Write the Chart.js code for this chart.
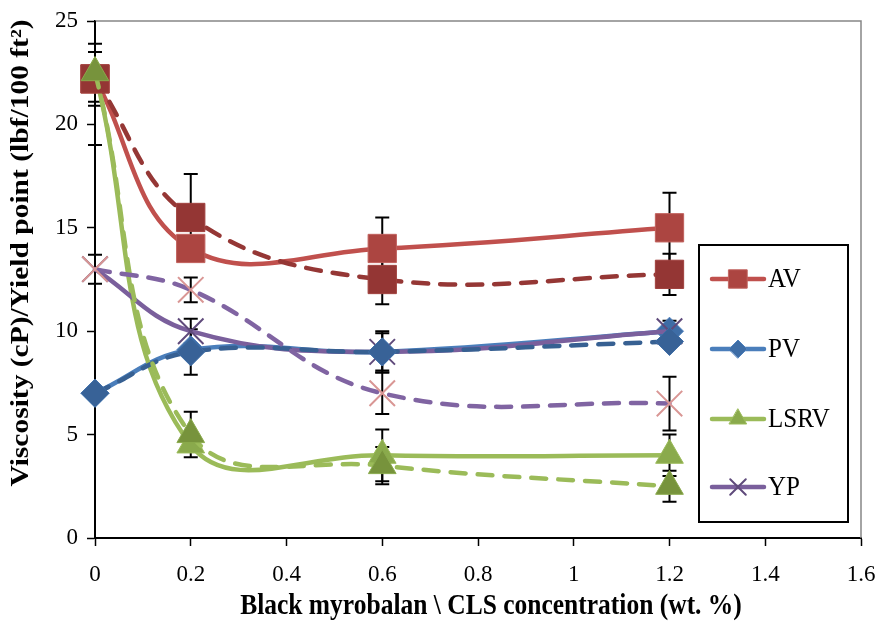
<!DOCTYPE html>
<html><head><meta charset="utf-8">
<script src="https://cdn.jsdelivr.net/npm/chart.js@4/dist/chart.umd.min.js"></script>
<style>html,body{margin:0;padding:0;background:#fff;} #wrap{width:882px;height:625px;position:relative;}</style>
</head><body><div id="wrap"><canvas id="c" width="882" height="625"></canvas></div>
<script>
// ---- data ----
const xValues = [0, 0.2, 0.6, 1.2];
const seriesNames = ['AV', 'PV', 'LSRV', 'YP'];
const avSolid    = [22.2, 14.0, 14.0, 15.0];
const avDashed   = [22.2, 15.5, 12.5, 12.75];
const pvSolid    = [7.0, 9.1, 9.0, 10.0];
const pvDashed   = [7.0, 9.0, 9.0, 9.5];
const lsrvSolid  = [22.5, 4.5, 4.0, 4.0];
const lsrvDashed = [22.5, 5.0, 3.5, 2.5];
const ypSolid    = [13.0, 10.0, 9.0, 10.0];
const ypDashed   = [13.0, 12.0, 7.0, 6.5];
// error bar half-ranges (0 = none)
const avSolidErr    = [1.3, 0, 1.5, 1.7];
const avDashedErr   = [0, 2.1, 1.2, 1.0];
const pvSolidErr    = [0, 0, 0.9, 0.5];
const pvDashedErr   = [0, 1.1, 0, 0];
const lsrvSolidErr  = [1.4, 0, 1.25, 1.0];
const lsrvDashedErr = [3.5, 1.1, 0.9, 0.75];
const ypSolidErr    = [0.7, 0.6, 1.0, 0];
const ypDashedErr   = [0, 0.6, 1.0, 1.3];
const xTicks = [0, 0.2, 0.4, 0.6, 0.8, 1, 1.2, 1.4, 1.6];
const yTicks = [0, 5, 10, 15, 20, 25];
const xTitle = 'Black myrobalan \\ CLS concentration (wt. %)';
const yTitle = 'Viscosity (cP)/Yield point (lbf/100 ft\u00B2)';

const FONT = "'Liberation Serif', 'Times New Roman', serif";
const pts = arr => xValues.map((x, i) => ({x: x, y: arr[i]}));

function ds(label, values, errs, dashed, line, fill, border, style, radius, bw) {
  return {
    label: label, data: pts(values), errs: errs, legendShow: !dashed,
    borderColor: line, borderWidth: 4.5, borderDash: dashed ? [15, 12] : [],
    borderCapStyle: 'round', borderJoinStyle: 'round',
    pointStyle: style, pointRadius: radius, pointHoverRadius: radius,
    pointBackgroundColor: fill, pointBorderColor: border, pointBorderWidth: bw,
    tension: 0.4, fill: false, clip: false
  };
}

const datasets = [
  ds('AV', avSolid, avSolidErr, false, '#C0504D', '#AC4541', '#C0605C', 'rect', 20, 1),
  ds('PV', pvSolid, pvSolidErr, false, '#4A7EBB', '#3E6DA6', '#4F81BD', 'rectRot', 14, 1),
  ds('LSRV', lsrvSolid, lsrvSolidErr, false, '#9BBB59', '#8AAA4C', '#9BBB59', 'triangle', 16, 1),
  ds('YP', ypSolid, ypSolidErr, false, '#7A5F9C', '#5F4A7B', '#5F4A7B', 'crossRot', 18, 2),
  ds('AV ', avDashed, avDashedErr, true, '#953735', '#943634', '#A0403D', 'rect', 20, 1),
  ds('PV ', pvDashed, pvDashedErr, true, '#376092', '#386297', '#3E6DA6', 'rectRot', 14, 1),
  ds('LSRV ', lsrvDashed, lsrvDashedErr, true, '#9BBB59', '#77933C', '#8AAA4C', 'triangle', 16, 1),
  ds('YP ', ypDashed, ypDashedErr, true, '#8064A2', '#D99694', '#D99694', 'crossRot', 18, 2)
];
datasets.forEach((d, i) => { d.order = 100 - i; });

const framePlugin = {
  id: 'frame',
  beforeDatasetsDraw(chart) {
    const {ctx, chartArea: a, scales} = chart;
    ctx.save();
    ctx.strokeStyle = '#868686'; ctx.lineWidth = 1.5;
    ctx.beginPath();
    ctx.moveTo(a.left, a.top); ctx.lineTo(a.right, a.top); ctx.lineTo(a.right, a.bottom);
    ctx.stroke();
    // error bars (behind markers)
    ctx.beginPath();
    ctx.rect(a.left - 20, a.top, a.right - a.left + 40, a.bottom - a.top);
    ctx.clip();
    ctx.strokeStyle = '#000'; ctx.lineWidth = 2;
    chart.data.datasets.forEach(d => {
      d.data.forEach((p, i) => {
        const e = d.errs[i];
        if (!e) return;
        const x = scales.x.getPixelForValue(p.x);
        const y1 = scales.y.getPixelForValue(p.y + e);
        const y2 = scales.y.getPixelForValue(p.y - e);
        ctx.beginPath();
        ctx.moveTo(x, y1); ctx.lineTo(x, y2);
        ctx.moveTo(x - 7, y1); ctx.lineTo(x + 7, y1);
        ctx.moveTo(x - 7, y2); ctx.lineTo(x + 7, y2);
        ctx.stroke();
      });
    });
    ctx.restore();
  },
  afterDraw(chart) {
    const ctx = chart.ctx;
    // y title
    ctx.save();
    ctx.translate(22, 253);
    ctx.rotate(-Math.PI / 2);
    ctx.scale(1.18, 1);
    ctx.font = 'bold 25px ' + FONT;
    ctx.fillStyle = '#000'; ctx.textAlign = 'center'; ctx.textBaseline = 'middle';
    ctx.fillText(yTitle, 0, 0);
    ctx.restore();
    // x title
    ctx.save();
    ctx.translate(491, 606);
    ctx.scale(1, 1.15);
    ctx.font = 'bold 25.5px ' + FONT;
    ctx.fillStyle = '#000'; ctx.textAlign = 'center'; ctx.textBaseline = 'middle';
    ctx.fillText(xTitle, 0, 0);
    ctx.restore();
    // legend
    ctx.save();
    ctx.strokeStyle = '#000'; ctx.lineWidth = 2;
    ctx.strokeRect(699, 245, 149, 277);
    const legendY = [279, 349, 419, 487];
    const legendR = [13, 9, 10, 11];
    let k = 0;
    chart.data.datasets.forEach(d => {
      if (!d.legendShow) return;
      const y = legendY[k];
      ctx.beginPath();
      ctx.strokeStyle = d.borderColor; ctx.lineWidth = 4.5; ctx.lineCap = 'round';
      ctx.moveTo(712, y); ctx.lineTo(764, y); ctx.stroke();
      ctx.fillStyle = d.pointBackgroundColor; ctx.strokeStyle = d.pointBorderColor;
      ctx.lineWidth = d.pointBorderWidth;
      Chart.helpers.drawPoint(ctx, {pointStyle: d.pointStyle, radius: legendR[k], rotation: 0, borderWidth: d.pointBorderWidth}, 738, y);
      ctx.save();
      ctx.translate(768, y + 1);
      ctx.scale(1, 1.12);
      ctx.fillStyle = '#000'; ctx.font = '25px ' + FONT;
      ctx.textAlign = 'left'; ctx.textBaseline = 'middle';
      ctx.fillText(seriesNames[k], 0, 0);
      ctx.restore();
      k++;
    });
    ctx.restore();
  }
};

new Chart(document.getElementById('c'), {
  type: 'line',
  data: {datasets: datasets},
  options: {
    responsive: false, animation: false, devicePixelRatio: 1,
    layout: {padding: {left: 0, top: 20, right: 19, bottom: 0}},
    plugins: {legend: {display: false}, tooltip: {enabled: false}},
    scales: {
      x: {
        type: 'linear', min: 0, max: 1.6,
        afterBuildTicks: s => { s.ticks = xTicks.map(v => ({value: v})); },
        afterFit: s => { s.height = 87; s.paddingLeft = 0; s.paddingRight = 0; },
        ticks: {font: {family: FONT, size: 23}, color: '#000', padding: 15,
                callback: v => String(Number(v.toFixed(1))), maxRotation: 0, autoSkip: false},
        grid: {drawOnChartArea: false, drawTicks: true, tickLength: 8, tickColor: '#000', tickWidth: 1.5},
        border: {color: '#000', width: 2},
        title: {display: false, text: xTitle}
      },
      y: {
        type: 'linear', min: 0, max: 25,
        afterBuildTicks: s => { s.ticks = yTicks.map(v => ({value: v})); },
        afterFit: s => { s.width = 95; s.paddingTop = 0; s.paddingBottom = 0; },
        ticks: {font: {family: FONT, size: 23}, color: '#000', padding: 9},
        grid: {drawOnChartArea: false, drawTicks: true, tickLength: 8, tickColor: '#000', tickWidth: 1.5},
        border: {color: '#000', width: 2},
        title: {display: false, text: yTitle}
      }
    }
  },
  plugins: [framePlugin]
});
</script>
</body></html>
